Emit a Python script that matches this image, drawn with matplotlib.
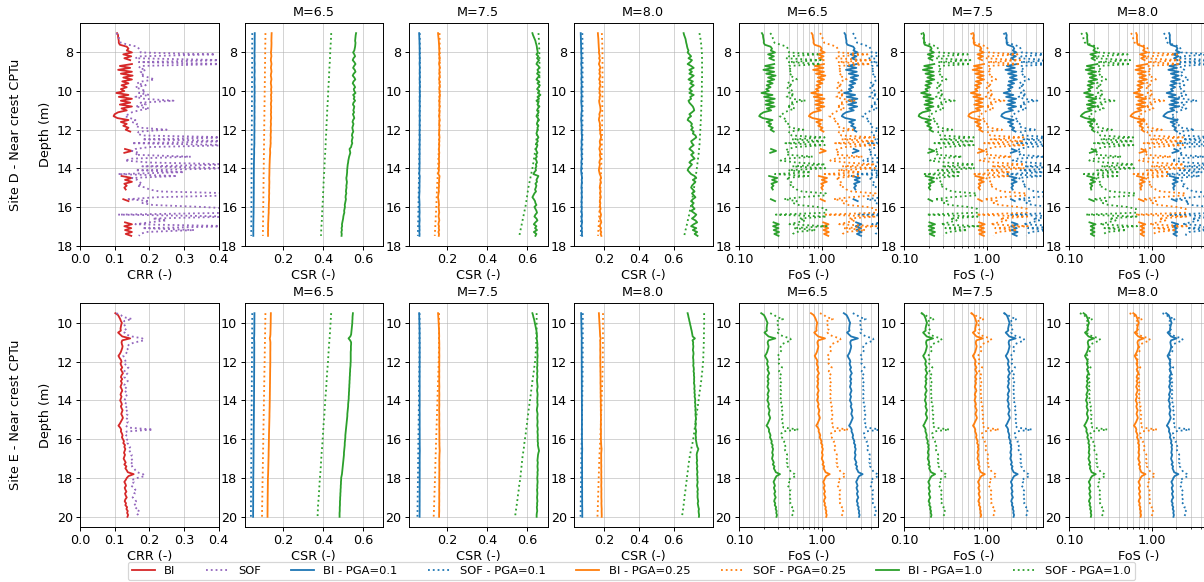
import numpy as np
import matplotlib
matplotlib.use('Agg')
import matplotlib.pyplot as plt
from matplotlib.ticker import FormatStrFormatter, NullFormatter, FixedLocator

nan = np.nan

# ---------------- depth grids (CPTu sampling, 0.1 m) ----------------
depth_D = np.round(np.arange(7.0, 17.55, 0.1), 2)
depth_E = np.round(np.arange(9.5, 20.05, 0.1), 2)

# ---------------- Site D : CRR ----------------
crr_bi_D = [
    0.107, 0.110, 0.110, 0.111, 0.112, 0.112, 0.115, 0.135, 0.140, 0.135,
    0.150, 0.125, 0.148, 0.128, 0.145, nan, 0.150, 0.115, 0.145, 0.110,
    0.150, 0.118, 0.152, 0.125, 0.150, 0.122, 0.140, 0.120, 0.135, 0.118,
    0.128, 0.105, 0.140, 0.112, 0.150, 0.118, 0.145, 0.115, 0.150, 0.120,
    0.135, 0.110, 0.100, 0.097, 0.108, 0.140, 0.118, 0.135, 0.125, 0.140,
    0.132, 0.145, nan, nan, nan, nan, nan, nan, nan, nan,
    0.130, 0.150, 0.128, nan, nan, nan, nan, nan, nan, nan,
    nan, nan, nan, nan, 0.120, 0.150, 0.130, 0.150, 0.128, 0.135,
    0.128, 0.132, nan, nan, nan, nan, 0.125, 0.140, nan, nan,
    nan, nan, nan, nan, nan, nan, nan, nan, 0.130, 0.150,
    0.128, 0.148, 0.130, 0.150, 0.132, 0.148]
crr_sof_D = [
    0.105, 0.110, 0.112, 0.113, 0.115, 0.118, 0.140, 0.165, 0.170, 0.175,
    0.175, 0.390, 0.175, 0.160, 0.420, 0.170, 0.420, 0.175, 0.170, 0.190,
    0.175, 0.185, 0.175, 0.200, 0.215, 0.180, 0.165, 0.190, 0.160, 0.175,
    0.190, 0.170, 0.200, 0.160, 0.185, 0.270, 0.175, 0.190, 0.160, 0.200,
    0.170, 0.150, 0.140, 0.130, 0.145, 0.160, 0.150, 0.165, 0.160, 0.175,
    0.250, 0.170, 0.165, 0.180, 0.450, 0.180, 0.450, 0.150, 0.450, 0.200,
    0.160, 0.150, 0.170, 0.160, 0.320, 0.150, 0.130, 0.200, 0.450, 0.180,
    0.450, 0.160, 0.300, 0.110, 0.280, 0.150, 0.165, 0.170, 0.180, 0.165,
    0.190, 0.200, 0.230, 0.450, 0.450, 0.220, 0.140, 0.200, 0.180, 0.210,
    0.350, 0.450, 0.450, 0.450, 0.110, 0.450, 0.210, 0.250, 0.200, 0.160,
    0.450, 0.180, 0.330, 0.190, 0.175, 0.170]

# ---------------- Site D : CSR at PGA = 1.0 ----------------
csr_bi_D_65 = [
    0.565, 0.563, 0.562, 0.561, 0.560, 0.562, 0.561, 0.560, 0.558, 0.556,
    0.550, 0.556, 0.560, 0.552, 0.548, 0.556, 0.562, 0.555, 0.550, 0.558,
    0.562, 0.553, 0.548, 0.556, 0.561, 0.552, 0.548, 0.555, 0.560, 0.553,
    0.556, 0.562, 0.550, 0.557, 0.553, 0.560, 0.552, 0.549, 0.556, 0.554,
    0.551, 0.555, 0.549, 0.553, 0.556, 0.550, 0.547, 0.552, 0.549, 0.546,
    0.548, 0.551, 0.546, 0.544, 0.548, 0.545, 0.543, 0.546, 0.542, 0.540,
    0.532, 0.534, 0.536, 0.533, 0.530, 0.528, 0.526, 0.525, 0.523, 0.522,
    0.521, 0.520, 0.520, 0.519, 0.518, 0.516, 0.517, 0.519, 0.518, 0.516,
    0.517, 0.515, 0.514, 0.516, 0.513, 0.512, 0.514, 0.512, 0.510, 0.508,
    0.509, 0.507, 0.505, 0.506, 0.503, 0.501, 0.500, 0.498, 0.496, 0.494,
    0.495, 0.492, 0.494, 0.491, 0.493, 0.492]
csr_sof_D_65 = [
    0.440, 0.440, 0.439, 0.439, 0.438, 0.438, 0.437, 0.437, 0.436, 0.436,
    0.435, 0.435, 0.434, 0.434, 0.433, 0.433, 0.432, 0.432, 0.431, 0.431,
    0.430, 0.430, 0.429, 0.429, 0.428, 0.428, 0.427, 0.427, 0.426, 0.426,
    0.425, 0.425, 0.424, 0.424, 0.423, 0.423, 0.422, 0.422, 0.421, 0.421,
    0.420, 0.420, 0.419, 0.419, 0.418, 0.418, 0.417, 0.417, 0.416, 0.416,
    0.416, 0.415, 0.415, 0.414, 0.414, 0.413, 0.413, 0.412, 0.412, 0.411,
    0.411, 0.410, 0.410, 0.409, 0.409, 0.408, 0.408, 0.407, 0.407, 0.406,
    0.406, 0.405, 0.405, 0.404, 0.404, 0.403, 0.403, 0.402, 0.402, 0.401,
    0.401, 0.400, 0.400, 0.399, 0.399, 0.399, 0.398, 0.398, 0.397, 0.397,
    0.396, 0.396, 0.395, 0.395, 0.394, 0.394, 0.393, 0.393, 0.392, 0.392,
    0.391, 0.391, 0.390, 0.390, 0.389, 0.389]
csr_bi_D_75 = [
    0.625, 0.628, 0.632, 0.636, 0.640, 0.642, 0.645, 0.647, 0.648, 0.650,
    0.652, 0.645, 0.655, 0.648, 0.658, 0.650, 0.645, 0.655, 0.660, 0.650,
    0.655, 0.648, 0.660, 0.652, 0.645, 0.658, 0.650, 0.662, 0.655, 0.648,
    0.660, 0.652, 0.665, 0.650, 0.658, 0.645, 0.655, 0.650, 0.660, 0.652,
    0.648, 0.656, 0.650, 0.645, 0.652, 0.658, 0.650, 0.647, 0.655, 0.650,
    0.652, 0.648, 0.645, 0.650, 0.655, 0.648, 0.652, 0.645, 0.650, 0.647,
    0.642, 0.645, 0.650, 0.643, 0.647, 0.640, 0.645, 0.648, 0.642, 0.645,
    0.640, 0.643, 0.635, 0.630, 0.655, 0.650, 0.645, 0.648, 0.640, 0.645,
    0.642, 0.638, 0.643, 0.635, 0.630, 0.625, 0.632, 0.638, 0.640, 0.645,
    0.635, 0.640, 0.645, 0.648, 0.640, 0.635, 0.645, 0.650, 0.640, 0.632,
    0.645, 0.638, 0.648, 0.632, 0.645, 0.640]
csr_sof_D_75 = [
    0.655, 0.656, 0.656, 0.657, 0.657, 0.658, 0.658, 0.658, 0.659, 0.659,
    0.659, 0.660, 0.660, 0.660, 0.660, 0.660, 0.660, 0.660, 0.660, 0.660,
    0.660, 0.660, 0.660, 0.660, 0.659, 0.659, 0.659, 0.658, 0.658, 0.658,
    0.658, 0.657, 0.657, 0.657, 0.656, 0.656, 0.656, 0.655, 0.655, 0.655,
    0.655, 0.654, 0.654, 0.653, 0.653, 0.652, 0.652, 0.651, 0.651, 0.650,
    0.650, 0.649, 0.648, 0.647, 0.646, 0.645, 0.644, 0.643, 0.642, 0.641,
    0.640, 0.639, 0.637, 0.636, 0.634, 0.633, 0.631, 0.630, 0.628, 0.627,
    0.625, 0.623, 0.621, 0.619, 0.617, 0.615, 0.613, 0.611, 0.609, 0.607,
    0.605, 0.604, 0.602, 0.601, 0.599, 0.598, 0.596, 0.595, 0.593, 0.592,
    0.590, 0.588, 0.586, 0.584, 0.582, 0.580, 0.578, 0.576, 0.574, 0.572,
    0.570, 0.568, 0.566, 0.564, 0.562, 0.560]
csr_bi_D_80 = [
    0.657, 0.660, 0.664, 0.668, 0.670, 0.672, 0.675, 0.677, 0.680, 0.685,
    0.680, 0.690, 0.700, 0.685, 0.705, 0.695, 0.680, 0.700, 0.715, 0.690,
    0.705, 0.690, 0.715, 0.700, 0.685, 0.710, 0.695, 0.715, 0.700, 0.690,
    0.705, 0.690, 0.715, 0.695, 0.700, 0.685, 0.690, 0.700, 0.710, 0.715,
    0.718, 0.705, 0.690, 0.700, 0.685, 0.680, 0.695, 0.705, 0.700, 0.710,
    0.700, 0.715, 0.710, 0.725, 0.730, 0.715, 0.700, 0.705, 0.715, 0.700,
    0.690, 0.705, 0.715, 0.700, 0.710, 0.720, 0.700, 0.690, 0.705, 0.695,
    0.685, 0.680, 0.690, 0.700, 0.720, 0.730, 0.710, 0.725, 0.715, 0.705,
    0.700, 0.710, 0.720, 0.705, 0.715, 0.725, 0.710, 0.700, 0.715, 0.705,
    0.710, 0.720, 0.700, 0.715, 0.730, 0.720, 0.705, 0.725, 0.735, 0.715,
    0.700, 0.730, 0.710, 0.735, 0.720, 0.737]
csr_sof_D_80 = [
    0.748, 0.750, 0.752, 0.754, 0.755, 0.757, 0.758, 0.759, 0.760, 0.761,
    0.762, 0.762, 0.762, 0.763, 0.763, 0.763, 0.763, 0.763, 0.763, 0.763,
    0.763, 0.763, 0.763, 0.763, 0.763, 0.762, 0.762, 0.762, 0.762, 0.762,
    0.762, 0.761, 0.761, 0.761, 0.760, 0.760, 0.760, 0.759, 0.759, 0.759,
    0.758, 0.758, 0.757, 0.757, 0.756, 0.756, 0.755, 0.755, 0.754, 0.754,
    0.753, 0.753, 0.752, 0.751, 0.751, 0.750, 0.749, 0.749, 0.748, 0.747,
    0.746, 0.745, 0.744, 0.743, 0.741, 0.740, 0.739, 0.737, 0.736, 0.734,
    0.733, 0.731, 0.730, 0.728, 0.727, 0.725, 0.724, 0.722, 0.720, 0.719,
    0.717, 0.715, 0.714, 0.712, 0.710, 0.708, 0.706, 0.704, 0.702, 0.700,
    0.698, 0.696, 0.693, 0.691, 0.689, 0.686, 0.684, 0.681, 0.679, 0.676,
    0.674, 0.671, 0.668, 0.666, 0.663, 0.660]

# ---------------- Site E : CRR ----------------
crr_bi_E = [
    0.102, 0.110, 0.113, 0.116, 0.118,
    0.121, 0.119, 0.118, 0.117, 0.118, 0.110, 0.116, 0.122, 0.145, 0.122,
    0.120, 0.121, 0.123, 0.122, 0.120, 0.118, 0.115, 0.111, 0.114, 0.118,
    0.120, 0.117, 0.119, 0.122, 0.118, 0.121, 0.124, 0.120, 0.118, 0.122,
    0.118, 0.121, 0.119, 0.117, 0.120, 0.122, 0.119, 0.117, 0.120, 0.118,
    0.116, 0.119, 0.121, 0.118, 0.120, 0.123, 0.121, 0.119, 0.122, 0.124,
    0.121, 0.118, 0.115, 0.111, 0.116, 0.119, 0.118, 0.121, 0.123, 0.121,
    0.124, 0.127, 0.125, 0.130, 0.128, 0.131, 0.129, 0.127, 0.130, 0.128,
    0.126, 0.129, 0.132, 0.128, 0.134, 0.131, 0.135, 0.138, 0.155, 0.140,
    0.135, 0.132, 0.128, 0.131, 0.133, 0.129, 0.131, 0.134, 0.130, 0.132,
    0.135, 0.131, 0.129, 0.133, 0.131, 0.136, 0.134, 0.138, 0.136, 0.139,
    0.137]
crr_sof_E = [
    0.105, 0.118, 0.125, 0.150, 0.128,
    0.125, 0.128, 0.132, 0.130, 0.135, 0.128, 0.133, 0.150, 0.180, 0.185,
    0.160, 0.142, 0.138, 0.135, 0.140, 0.136, 0.132, 0.125, 0.128, 0.130,
    0.132, 0.128, 0.135, 0.140, 0.133, 0.128, 0.137, 0.132, 0.128, 0.135,
    0.138, 0.132, 0.128, 0.135, 0.130, 0.134, 0.129, 0.133, 0.136, 0.131,
    0.128, 0.133, 0.131, 0.136, 0.130, 0.134, 0.138, 0.135, 0.140, 0.137,
    0.133, 0.138, 0.135, 0.132, 0.140, 0.210, 0.135, 0.130, 0.134, 0.132,
    0.135, 0.140, 0.137, 0.142, 0.145, 0.140, 0.143, 0.147, 0.150, 0.146,
    0.148, 0.152, 0.147, 0.155, 0.150, 0.156, 0.160, 0.165, 0.182, 0.187,
    0.165, 0.150, 0.155, 0.152, 0.148, 0.156, 0.160, 0.154, 0.158, 0.155,
    0.152, 0.158, 0.162, 0.156, 0.160, 0.165, 0.160, 0.170, 0.172, 0.165,
    0.160]

# ---------------- Site E : CSR at PGA = 1.0 ----------------
csr_bi_E_65 = [
    0.549, 0.548, 0.547, 0.547, 0.546,
    0.546, 0.545, 0.544, 0.543, 0.542, 0.541, 0.540, 0.536, 0.527, 0.535,
    0.540, 0.540, 0.539, 0.539, 0.539, 0.538, 0.538, 0.538, 0.538, 0.538,
    0.538, 0.537, 0.537, 0.536, 0.535, 0.535, 0.534, 0.534, 0.533, 0.533,
    0.532, 0.532, 0.531, 0.531, 0.530, 0.530, 0.529, 0.529, 0.528, 0.528,
    0.527, 0.526, 0.525, 0.525, 0.524, 0.523, 0.522, 0.521, 0.521, 0.520,
    0.519, 0.518, 0.517, 0.516, 0.515, 0.514, 0.513, 0.512, 0.511, 0.511,
    0.510, 0.509, 0.508, 0.508, 0.507, 0.506, 0.505, 0.504, 0.504, 0.503,
    0.502, 0.501, 0.500, 0.499, 0.498, 0.497, 0.496, 0.495, 0.494, 0.492,
    0.490, 0.490, 0.489, 0.489, 0.488, 0.488, 0.487, 0.487, 0.486, 0.486,
    0.485, 0.485, 0.484, 0.484, 0.484, 0.483, 0.483, 0.483, 0.482, 0.482,
    0.482]
csr_sof_E_65 = [
    0.440, 0.439, 0.439, 0.438, 0.437,
    0.437, 0.436, 0.436, 0.435, 0.434, 0.434, 0.433, 0.432, 0.432, 0.431,
    0.430, 0.430, 0.429, 0.428, 0.428, 0.427, 0.426, 0.426, 0.425, 0.424,
    0.424, 0.423, 0.422, 0.422, 0.421, 0.420, 0.420, 0.419, 0.418, 0.418,
    0.417, 0.416, 0.416, 0.415, 0.414, 0.414, 0.413, 0.412, 0.412, 0.411,
    0.410, 0.410, 0.409, 0.408, 0.408, 0.407, 0.406, 0.406, 0.405, 0.404,
    0.404, 0.403, 0.402, 0.402, 0.401, 0.400, 0.400, 0.399, 0.398, 0.398,
    0.397, 0.396, 0.396, 0.395, 0.394, 0.394, 0.393, 0.392, 0.392, 0.391,
    0.390, 0.390, 0.389, 0.388, 0.388, 0.387, 0.386, 0.386, 0.385, 0.384,
    0.384, 0.383, 0.382, 0.382, 0.381, 0.380, 0.380, 0.379, 0.378, 0.378,
    0.377, 0.376, 0.376, 0.375, 0.374, 0.374, 0.373, 0.373, 0.372, 0.372,
    0.372]
csr_bi_E_75 = [
    0.625, 0.628, 0.630, 0.633, 0.635,
    0.637, 0.639, 0.641, 0.643, 0.645, 0.646, 0.647, 0.648, 0.645, 0.648,
    0.649, 0.650, 0.649, 0.651, 0.650, 0.649, 0.650, 0.651, 0.650, 0.649,
    0.650, 0.649, 0.650, 0.648, 0.649, 0.650, 0.648, 0.649, 0.650, 0.648,
    0.648, 0.649, 0.650, 0.651, 0.649, 0.648, 0.650, 0.651, 0.650, 0.649,
    0.650, 0.649, 0.651, 0.650, 0.648, 0.647, 0.649, 0.651, 0.650, 0.649,
    0.650, 0.651, 0.650, 0.649, 0.651, 0.652, 0.650, 0.651, 0.652, 0.651,
    0.652, 0.651, 0.653, 0.652, 0.654, 0.656, 0.658, 0.655, 0.653, 0.652,
    0.651, 0.650, 0.652, 0.651, 0.650, 0.651, 0.652, 0.650, 0.651, 0.650,
    0.649, 0.650, 0.651, 0.650, 0.649, 0.650, 0.648, 0.649, 0.650, 0.649,
    0.648, 0.649, 0.650, 0.648, 0.649, 0.647, 0.648, 0.649, 0.647, 0.646,
    0.646]
csr_sof_E_75 = [
    0.646, 0.646, 0.646, 0.646, 0.646,
    0.646, 0.646, 0.646, 0.646, 0.645, 0.645, 0.645, 0.645, 0.645, 0.644,
    0.644, 0.644, 0.643, 0.643, 0.642, 0.642, 0.641, 0.640, 0.640, 0.639,
    0.638, 0.637, 0.636, 0.634, 0.633, 0.632, 0.630, 0.629, 0.628, 0.626,
    0.625, 0.624, 0.623, 0.621, 0.620, 0.619, 0.618, 0.617, 0.615, 0.614,
    0.613, 0.612, 0.610, 0.609, 0.608, 0.606, 0.605, 0.604, 0.603, 0.601,
    0.600, 0.599, 0.598, 0.597, 0.595, 0.594, 0.593, 0.592, 0.590, 0.589,
    0.588, 0.587, 0.585, 0.584, 0.583, 0.582, 0.580, 0.579, 0.578, 0.576,
    0.575, 0.574, 0.573, 0.572, 0.571, 0.570, 0.569, 0.568, 0.567, 0.566,
    0.565, 0.564, 0.562, 0.561, 0.559, 0.558, 0.557, 0.556, 0.554, 0.553,
    0.552, 0.551, 0.549, 0.548, 0.547, 0.546, 0.544, 0.543, 0.542, 0.540,
    0.539]
csr_bi_E_80 = [
    0.680, 0.683, 0.685, 0.688, 0.690,
    0.693, 0.695, 0.698, 0.700, 0.703, 0.705, 0.707, 0.709, 0.722, 0.708,
    0.712, 0.711, 0.713, 0.712, 0.710, 0.713, 0.714, 0.712, 0.711, 0.713,
    0.713, 0.714, 0.712, 0.715, 0.716, 0.714, 0.717, 0.716, 0.718, 0.717,
    0.718, 0.716, 0.719, 0.720, 0.718, 0.721, 0.719, 0.722, 0.720, 0.723,
    0.724, 0.722, 0.725, 0.723, 0.726, 0.724, 0.727, 0.725, 0.726, 0.728,
    0.727, 0.725, 0.728, 0.726, 0.724, 0.727, 0.729, 0.727, 0.726, 0.728,
    0.727, 0.729, 0.731, 0.733, 0.736, 0.742, 0.738, 0.734, 0.732, 0.733,
    0.733, 0.735, 0.732, 0.734, 0.736, 0.733, 0.735, 0.737, 0.734, 0.736,
    0.737, 0.735, 0.738, 0.736, 0.734, 0.737, 0.739, 0.736, 0.738, 0.737,
    0.737, 0.739, 0.741, 0.738, 0.740, 0.742, 0.745, 0.743, 0.744, 0.746,
    0.745]
csr_sof_E_80 = [
    0.775, 0.775, 0.775, 0.775, 0.775,
    0.775, 0.775, 0.775, 0.774, 0.774, 0.774, 0.774, 0.774, 0.773, 0.773,
    0.773, 0.773, 0.772, 0.772, 0.772, 0.771, 0.771, 0.770, 0.770, 0.769,
    0.769, 0.768, 0.767, 0.766, 0.765, 0.764, 0.763, 0.762, 0.760, 0.759,
    0.758, 0.756, 0.755, 0.753, 0.752, 0.750, 0.749, 0.747, 0.746, 0.744,
    0.743, 0.741, 0.740, 0.738, 0.737, 0.735, 0.733, 0.732, 0.730, 0.729,
    0.727, 0.726, 0.724, 0.723, 0.721, 0.720, 0.718, 0.717, 0.715, 0.714,
    0.712, 0.710, 0.708, 0.705, 0.703, 0.701, 0.699, 0.696, 0.694, 0.692,
    0.690, 0.689, 0.687, 0.686, 0.684, 0.683, 0.682, 0.680, 0.679, 0.677,
    0.676, 0.675, 0.673, 0.672, 0.670, 0.669, 0.668, 0.666, 0.665, 0.663,
    0.662, 0.661, 0.659, 0.658, 0.657, 0.655, 0.654, 0.652, 0.651, 0.649,
    0.648]

pga_levels = [0.1, 0.25, 1.0]
pga_labels = ['0.1', '0.25', '1.0']
pga_colors = ['#1f77b4', '#ff7f0e', '#2ca02c']
magnitudes = ['6.5', '7.5', '8.0']
site_labels = ['Site D - Near crest CPTu', 'Site E - Near crest CPTu']
crr_xlim = (0.0, 0.4)
csr_xlims = [(0.005, 0.70), (0.012, 0.70), (0.027, 0.823)]
fos_xlim = (0.1, 4.75)

sites = [
    dict(depth=np.array(depth_D), bi=np.array(crr_bi_D, float), sof=np.array(crr_sof_D, float),
         csr_bi=[np.array(csr_bi_D_65), np.array(csr_bi_D_75), np.array(csr_bi_D_80)],
         csr_sof=[np.array(csr_sof_D_65), np.array(csr_sof_D_75), np.array(csr_sof_D_80)]),
    dict(depth=np.array(depth_E), bi=np.array(crr_bi_E, float), sof=np.array(crr_sof_E, float),
         csr_bi=[np.array(csr_bi_E_65), np.array(csr_bi_E_75), np.array(csr_bi_E_80)],
         csr_sof=[np.array(csr_sof_E_65), np.array(csr_sof_E_75), np.array(csr_sof_E_80)]),
]

FS = 10.5
plt.rcParams.update({'font.size': FS, 'axes.titlesize': FS, 'axes.labelsize': FS,
                     'xtick.labelsize': FS, 'ytick.labelsize': FS,
                     'legend.fontsize': 9.5,
                     'xtick.major.pad': 2.0, 'ytick.major.pad': 2.5,
                     'axes.labelpad': 2.5})

DPI = 87
W, H = 1204, 582
fig = plt.figure(figsize=(W / DPI, H / DPI), dpi=DPI)

lefts = [80, 244.5, 409, 574, 739, 904, 1069]
panel_w = 138.5
rows_px = [(23, 246), (303, 527)]

grid_kw = dict(color='#b0b0b0', linewidth=0.8, alpha=0.55)
lw = 1.5
legend_handles = None

for r, site in enumerate(sites):
    top, bot = rows_px[r]
    d = site['depth']
    dmin, dmax = np.nanmin(d), np.nanmax(d)
    pad = 0.05 * (dmax - dmin)
    axes = []
    for c in range(7):
        ax = fig.add_axes([lefts[c] / W, 1 - bot / H, panel_w / W, (bot - top) / H])
        ax.set_ylim(dmax + pad, dmin - pad)
        axes.append(ax)

    # CRR panel
    ax = axes[0]
    l_bi, = ax.plot(site['bi'], d, '-', color='#d62728', lw=lw, label='BI')
    l_sof, = ax.plot(site['sof'], d, ':', color='#9467bd', lw=lw, label='SOF')
    ax.set_xlim(*crr_xlim)
    ax.set_xticks([0.0, 0.1, 0.2, 0.3, 0.4])
    ax.set_xlabel('CRR (-)')
    ax.set_ylabel('Depth (m)', labelpad=4)
    ax.grid(True, **grid_kw)
    fig.text(16 / W, 1 - (top + bot) / 2 / H, site_labels[r], rotation=90,
             ha='center', va='center', fontsize=FS)

    # CSR panels
    handles = [l_bi, l_sof]
    for m in range(3):
        ax = axes[1 + m]
        for p, col in zip(pga_levels, pga_colors):
            h1, = ax.plot(p * site['csr_bi'][m], d, '-', color=col, lw=lw)
            h2, = ax.plot(p * site['csr_sof'][m], d, ':', color=col, lw=lw)
            if m == 0:
                handles += [h1, h2]
        ax.set_xlim(*csr_xlims[m])
        ax.set_xticks([0.2, 0.4, 0.6])
        ax.set_xlabel('CSR (-)')
        ax.set_title('M=' + magnitudes[m], pad=5.5)
        ax.grid(True, **grid_kw)
    if legend_handles is None:
        legend_handles = handles

    # FoS panels
    for m in range(3):
        ax = axes[4 + m]
        for p, col in zip(pga_levels, pga_colors):
            ax.plot(site['bi'] / (p * site['csr_bi'][m]), d, '-', color=col, lw=lw)
            ax.plot(site['sof'] / (p * site['csr_sof'][m]), d, ':', color=col, lw=lw)
        ax.set_xscale('log')
        ax.set_xlim(*fos_xlim)
        ax.xaxis.set_major_locator(FixedLocator([0.1, 1.0, 10.0]))
        ax.xaxis.set_major_formatter(FormatStrFormatter('%.2f'))
        ax.xaxis.set_minor_formatter(NullFormatter())
        ax.set_xlabel('FoS (-)')
        ax.set_title('M=' + magnitudes[m], pad=5.5)
        ax.grid(True, which='both', **grid_kw)

labels = ['BI', 'SOF']
for pl in pga_labels:
    labels += ['BI - PGA=' + pl, 'SOF - PGA=' + pl]
fig.legend(legend_handles, labels, loc='upper center', ncol=8,
           bbox_to_anchor=(631.5 / W, 1 - 562 / H), frameon=True,
           borderaxespad=0.0, borderpad=0.35, columnspacing=2.65)

fig.savefig('out.png', dpi=DPI)
